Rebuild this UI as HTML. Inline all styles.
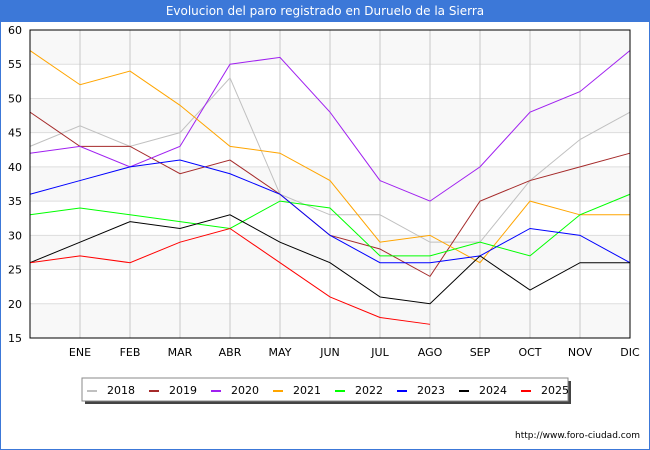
<!DOCTYPE html>
<html><head><meta charset="utf-8"><style>
body{margin:0;background:#fff}
#wrap{position:relative;width:648px;height:448px;border:1px solid #3c78d8;overflow:hidden;font-family:"DejaVu Sans","Liberation Sans",sans-serif}
#title{position:absolute;left:0;top:0;width:648px;height:21px;background:#3c78d8;color:#fff;font-size:12px;text-align:center;line-height:21px}
svg{position:absolute;left:-1px;top:-1px}
</style></head><body>
<div id="wrap">
<div id="title">Evolucion del paro registrado en Duruelo de la Sierra</div>
<svg id="s" width="650" height="450"></svg>
</div>
<script>
const months=["","ENE","FEB","MAR","ABR","MAY","JUN","JUL","AGO","SEP","OCT","NOV","DIC"];
const yTicks=[15,20,25,30,35,40,45,50,55,60];
const years=["2018","2019","2020","2021","2022","2023","2024","2025"];
const colors=["#c0c0c0","#a52a2a","#a020f0","#ffa500","#00ff00","#0000ff","#000000","#ff0000"];
const s2018=[43,46,43,45,53,36,33,33,29,29,38,44,48];
const s2019=[48,43,43,39,41,36,30,28,24,35,38,40,42];
const s2020=[42,43,40,43,55,56,48,38,35,40,48,51,57];
const s2021=[57,52,54,49,43,42,38,29,30,26,35,33,33];
const s2022=[33,34,33,32,31,35,34,27,27,29,27,33,36];
const s2023=[36,38,40,41,39,36,30,26,26,27,31,30,26];
const s2024=[26,29,32,31,33,29,26,21,20,27,22,26,26];
const s2025=[26,27,26,29,31,26,21,18,17];
const series=[s2018,s2019,s2020,s2021,s2022,s2023,s2024,s2025];
const L=30,R=630,T=30,B=338,ymin=15,ymax=60;
const X=i=>L+i*(R-L)/(months.length-1);
const Y=v=>B-(v-ymin)*(B-T)/(ymax-ymin);
const s=document.getElementById('s');const NS="http://www.w3.org/2000/svg";
function mk(t,a,p){const e=document.createElementNS(NS,t);for(const k in a)e.setAttribute(k,a[k]);(p||s).appendChild(e);return e;}
for(let i=0;i<yTicks.length-1;i++){if(i%2==0){const r=mk('rect',{x:L,y:Y(yTicks[i+1]),width:R-L,height:Y(yTicks[i])-Y(yTicks[i+1]),fill:'#f8f8f8'});}}
yTicks.forEach(v=>{const l=mk('line',{x1:L,x2:R,y1:Y(v),y2:Y(v),stroke:'#dddddd'});
const t=mk('text',{x:L-8,y:Y(v)+4,'text-anchor':'end','font-size':11,fill:'#000'});t.textContent=v;});
months.forEach((m,i)=>{if(i>0){const l=mk('line',{x1:X(i),x2:X(i),y1:T,y2:B,stroke:'#c8c8c8'});
const t=mk('text',{x:X(i),y:B+18,'text-anchor':'middle','font-size':11,fill:'#000'});t.textContent=m;}});
series.forEach((d,k)=>{const p=mk('polyline',{points:d.map((v,i)=>X(i)+','+Y(v)).join(' '),fill:'none',stroke:colors[k],'stroke-width':1});});
const fr=mk('rect',{x:L,y:T,width:R-L,height:B-T,fill:'none',stroke:'#000'});
const g=mk('g',{});
mk('rect',{x:85,y:381,width:486,height:23,fill:'#444'},g);
mk('rect',{x:82,y:378,width:486,height:23,fill:'#fff',stroke:'#888'},g);
years.forEach((y,k)=>{const e=mk('g',{},g);
mk('rect',{x:87+k*62,y:390,width:10,height:2,fill:colors[k]},e);
const t=mk('text',{x:107+k*62,y:394,'font-size':11,fill:'#000'},e);t.textContent=y;});
const u=mk('text',{x:640,y:438,'text-anchor':'end','font-size':9,fill:'#000'});u.textContent="http://www.foro-ciudad.com";
</script>
</body></html>
